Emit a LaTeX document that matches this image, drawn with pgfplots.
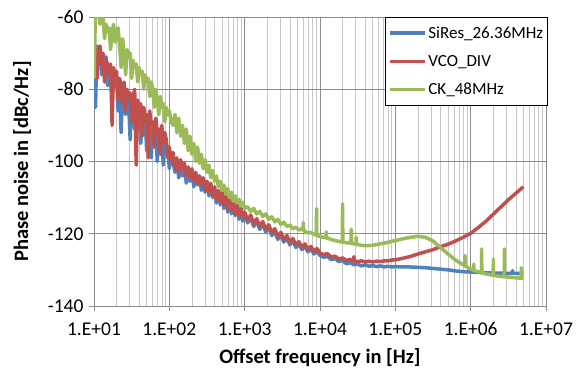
\documentclass[border=0pt]{standalone}
\usepackage{pgfplots}
\pgfplotsset{compat=1.18}
\usepackage{fontspec}
\setmainfont{Carlito}
\definecolor{xblue}{HTML}{4F81BD}
\definecolor{xred}{HTML}{C0504D}
\definecolor{xgreen}{HTML}{9BBB59}
\begin{document}
\begin{tikzpicture}
\path[use as bounding box] (-94pt,-68pt) rectangle (488pt,306pt);
\begin{axis}[
  at={(0pt,0pt)}, anchor=south west,
  scale only axis, width=452pt, height=289pt,
  xmode=log, xmin=10, xmax=1e7, ymin=-140, ymax=-60,
  xtick={1e1,1e2,1e3,1e4,1e5,1e6,1e7},
  xticklabels={1.E+01,1.E+02,1.E+03,1.E+04,1.E+05,1.E+06,1.E+07},
  ytick={-140,-120,-100,-80,-60},
  yticklabels={-140,-120,-100,-80,-60},
  grid=both,
  major grid style={draw=black!45, line width=0.9pt},
  minor grid style={draw=black!22, line width=0.9pt},
  axis line style={draw=black!45, line width=0.9pt},
  axis lines*=left,
  tick style={draw=black!45, line width=0.9pt},
  tick align=outside, tick pos=left,
  major tick length=5pt, minor tick length=0pt,
  xticklabel style={font=\fontsize{19.5}{20}\selectfont, yshift=-8pt},
  yticklabel style={font=\fontsize{19.5}{20}\selectfont, xshift=-2pt},
  xlabel={\textbf{Offset frequency in [Hz]}},
  ylabel={\textbf{Phase noise in [dBc/Hz]}},
  every axis x label/.style={at={(axis description cs:0.5,0)}, anchor=center, yshift=-52pt, font=\fontsize{20.5}{22}\selectfont},
  every axis y label/.style={at={(axis description cs:-0.159,0.5)}, rotate=90, anchor=center, font=\fontsize{20.5}{22}\selectfont},
  legend style={at={(rel axis cs:0.6438,1)}, anchor=north west, draw=black, line width=0.8pt,
     fill=white, font=\fontsize{17}{18}\selectfont, inner xsep=3pt, inner ysep=5pt, row sep=7.5pt,
     nodes={inner xsep=1.5pt, inner ysep=4pt}, cells={anchor=west}},
  legend image code/.code={\draw[#1, line width=3.5pt] (0pt,0pt) -- (35pt,0pt);},
  every axis plot/.append style={line width=3.5pt, line join=round},
]
\addplot[xblue] coordinates {
(10,-70)(10.47,-85)(10.96,-68)(11.48,-71)(12.02,-69)(12.59,-76)(13.18,-72)(13.80,-74)(14.45,-71)(15.14,-79)
(15.85,-74)(16.60,-76)(17.38,-82)(18.20,-75)(19.05,-78)(19.95,-77)(20.89,-86)(21.88,-79)(22.91,-92)(23.99,-81)
(25.12,-80)(26.30,-87)(27.54,-82)(28.84,-84)(30.20,-94)(31.62,-83)(33.11,-86)(34.67,-91)(36.31,-85)(38.02,-88)
(39.81,-86)(41.69,-95)(43.65,-88)(45.71,-90)(47.86,-89)(50.12,-97)(52.48,-90)(54.95,-92)(57.54,-99)(60.26,-91)
(63.10,-93)(66.07,-92)(69.18,-100)(72.44,-93)(75.86,-96)(79.43,-94)(83.18,-101)(87.10,-95)(91.20,-97)(95.50,-96)
(100,-102)(105.9,-98.5)(112.2,-100)(118.9,-103)(125.9,-100)(133.4,-104.5)(141.3,-100.5)(149.6,-104)(158.5,-101)(167.9,-106)
(177.8,-102)(188.4,-105.5)(199.5,-102.5)(211.3,-107)(223.9,-103.5)(237.1,-106.5)(251.2,-104)(266.1,-108)(281.8,-105)(298.5,-108.5)
(316.2,-105.5)(335.0,-109.5)(354.8,-106.5)(375.8,-110)(398.1,-107.5)(421.7,-111.5)(446.7,-108)(473.2,-112)(501.2,-109)(530.9,-113)
(562.3,-110)(595.7,-114)(631.0,-111)(668.3,-114.5)(707.9,-111.5)(749.9,-115)(794.3,-112.5)(841.4,-116)(891.3,-113)(944.1,-116.5)
(1000,-114.5)(1096,-117)(1202,-115.5)(1318,-118)(1445,-116.5)(1585,-118.8)(1738,-117.3)(1905,-119.5)(2089,-118.2)(2291,-120.5)
(2512,-119.3)(2754,-121.6)(3020,-120.3)(3311,-122.3)(3631,-121.2)(3981,-123.1)(4365,-122)(4786,-123.8)(5248,-122.9)(5754,-124.4)
(6310,-123.5)(6918,-125)(7586,-124.2)(8318,-125.6)(9120,-124.8)(10000,-126)
(11220,-126.5)(12590,-126.3)(14130,-127.2)(15850,-126.9)(17780,-127.7)(19950,-127.4)(22390,-128.3)(25120,-128.0)(28180,-128.6)(31620,-128.4)
(35480,-128.9)(39810,-128.6)(44670,-129.0)(50120,-128.8)(56230,-129.1)(63100,-128.9)(70790,-129.2)(79430,-129.0)(89130,-129.2)(100000,-129.1)
(1.259e5,-129.2)(1.585e5,-129.2)(1.995e5,-129.3)(2.512e5,-129.4)(3.162e5,-129.6)(3.981e5,-129.8)(5.012e5,-130.0)(6.31e5,-130.3)(7.943e5,-130.5)
(1e6,-130.6)(1.259e6,-130.7)(1.585e6,-130.8)(1.995e6,-130.9)(2.512e6,-130.9)(3.162e6,-131)(3.55e6,-131)(3.6e6,-130.2)(3.65e6,-131)(3.981e6,-131)(5e6,-131)
};
\addlegendentry{SiRes\_26.36MHz}
\addplot[xred] coordinates {
(10,-74)(10.47,-69)(10.96,-77)(11.48,-70)(12.02,-68)(12.59,-73)(13.18,-70)(13.80,-78)(14.45,-72)(15.14,-73)
(15.85,-76)(16.60,-73)(17.38,-90)(18.20,-74)(19.05,-77)(19.95,-75)(20.89,-83)(21.88,-77)(22.91,-79)(23.99,-84)
(25.12,-78)(26.30,-86)(27.54,-80)(28.84,-82)(30.20,-81)(31.62,-89)(33.11,-82)(34.67,-80)(36.31,-101)(38.02,-83)
(39.81,-86)(41.69,-84)(43.65,-93)(45.71,-85)(47.86,-88)(50.12,-87)(52.48,-99)(54.95,-86)(57.54,-90)(60.26,-89)
(63.10,-96)(66.07,-88)(69.18,-92)(72.44,-91)(75.86,-98)(79.43,-90)(83.18,-95)(87.10,-92)(91.20,-94)(95.50,-99)
(100,-96)(105.9,-100)(112.2,-97.5)(118.9,-102)(125.9,-99)(133.4,-103)(141.3,-99.5)(149.6,-102)(158.5,-100.5)(167.9,-104)
(177.8,-101.5)(188.4,-104.5)(199.5,-102)(211.3,-105.5)(223.9,-103)(237.1,-106)(251.2,-104)(266.1,-106.5)(281.8,-104.5)(298.5,-108)
(316.2,-105.5)(335.0,-108.5)(354.8,-106)(375.8,-109.5)(398.1,-107)(421.7,-110.5)(446.7,-108)(473.2,-111)(501.2,-108.5)(530.9,-112)
(562.3,-109.5)(595.7,-113)(631.0,-110.5)(668.3,-113.5)(707.9,-111)(749.9,-114.5)(794.3,-112)(841.4,-115)(891.3,-113)(944.1,-115.5)
(1000,-114)(1096,-116.2)(1202,-114.8)(1318,-117.3)(1445,-115.8)(1585,-118)(1738,-116.6)(1905,-118.8)(2089,-117.5)(2291,-119.8)
(2512,-118.6)(2754,-120.9)(3020,-119.6)(3311,-121.6)(3631,-120.5)(3981,-122.4)(4365,-121.3)(4786,-123.1)(5248,-122.2)(5754,-123.7)
(6310,-122.8)(6918,-124.3)(7586,-123.5)(8318,-124.9)(9120,-124.1)(10000,-125.3)
(11220,-125.8)(12590,-125.5)(14130,-126.5)(15850,-126.2)(17780,-127)(19950,-126.7)(22390,-127.4)(25120,-127.1)(28000,-127.5)(28180,-126.3)(28400,-127.6)
(31620,-127.7)(35480,-127.5)(39810,-127.8)(44670,-127.6)(50120,-127.8)(56230,-127.6)(63100,-127.7)(70790,-127.5)(79430,-127.5)(89130,-127.3)(100000,-127.2)
(1.259e5,-126.8)(1.585e5,-126.3)(1.995e5,-125.6)(2.512e5,-125)(3.162e5,-124.4)(3.981e5,-123.6)(5.012e5,-122.9)(6.31e5,-122)(7.943e5,-121)
(1e6,-119.9)(1.259e6,-118.3)(1.585e6,-116.6)(1.995e6,-114.6)(2.512e6,-112.6)(3.162e6,-110.6)(3.981e6,-108.8)(5e6,-107)
};
\addlegendentry{VCO\_DIV}
\addplot[xgreen] coordinates {
(10,-77)(10.47,-58)(10.96,-56)(11.48,-57)(12.02,-62)(12.59,-58)(13.18,-60)(13.80,-66)(14.45,-62)(15.14,-64)
(15.85,-63)(16.60,-69)(17.38,-64)(18.20,-62)(19.05,-67)(19.95,-64)(20.89,-63)(21.88,-68)(22.91,-74)(23.99,-66)
(25.12,-70)(26.30,-76)(27.54,-69)(28.84,-71)(30.20,-70)(31.62,-77)(33.11,-72)(34.67,-74)(36.31,-73)(38.02,-78)
(39.81,-74)(41.69,-76)(43.65,-75)(45.71,-80)(47.86,-76)(50.12,-78)(52.48,-77)(54.95,-82)(57.54,-78)(60.26,-80)
(63.10,-85)(66.07,-80)(69.18,-83)(72.44,-87)(75.86,-82)(79.43,-85)(83.18,-84)(87.10,-89)(91.20,-85)(95.50,-87)
(100,-86)(105.9,-89)(112.2,-90)(118.9,-87)(125.9,-92)(133.4,-88)(141.3,-93)(149.6,-90)(158.5,-95)(167.9,-91)
(177.8,-97)(188.4,-93)(199.5,-98)(211.3,-95)(223.9,-100)(237.1,-96)(251.2,-100.5)(266.1,-98)(281.8,-102)(298.5,-99.5)
(316.2,-103)(335.0,-101)(354.8,-104.5)(375.8,-102.5)(398.1,-105.5)(421.7,-104)(446.7,-107)(473.2,-105.5)(501.2,-108)(530.9,-106.5)
(562.3,-109)(595.7,-107.5)(631.0,-110)(668.3,-108.5)(707.9,-111)(749.9,-109.5)(794.3,-111.5)(841.4,-110.5)(891.3,-112.3)(944.1,-111.3)
(1000,-113)(1096,-112.5)(1202,-113.8)(1318,-113)(1445,-114.5)(1585,-113.8)(1738,-115.2)(1905,-114.5)(2089,-116)(2291,-115.3)
(2512,-116.7)(2754,-116)(3020,-117.4)(3311,-116.8)(3631,-118)(3981,-117.6)(4365,-118.6)(4786,-118.2)(5248,-119)(5754,-118.6)
(5950,-119)(6000,-116.9)(6050,-119)(6310,-119.3)(6918,-119.8)(7586,-119.6)(8318,-120.2)(8950,-120.3)(9000,-113)(9050,-120.4)(9500,-120.6)(10000,-120.8)
(11220,-121)(12000,-121.1)(12100,-119.5)(12200,-121.2)(12590,-121.2)(14130,-121.6)(15850,-121.9)(17780,-122.1)
(19800,-122.3)(19950,-111.7)(20100,-122.3)(22390,-122.5)(25700,-122.6)(26000,-118.7)(26300,-122.7)(28180,-122.8)
(30000,-122.8)(30200,-121)(30400,-123)(31620,-123)(35480,-123.2)(39810,-123.3)(44670,-123.3)(50120,-123.2)(56230,-123)
(63100,-122.8)(70790,-122.6)(79430,-122.4)(89130,-122.1)(100000,-121.9)
(1.259e5,-121.4)(1.585e5,-121)(1.995e5,-120.7)(2.512e5,-121)(3.162e5,-122)(3.981e5,-123.8)(5.012e5,-125.6)(6.31e5,-127.3)(7.943e5,-128.6)
(8.35e5,-128.8)(8.4e5,-126)(8.45e5,-128.9)(1e6,-129.8)(1.095e6,-130.1)(1.1e6,-128.4)(1.105e6,-130.2)(1.259e6,-130.5)
(1.395e6,-130.8)(1.4e6,-124.2)(1.405e6,-130.8)(1.585e6,-131.1)(1.99e6,-131.5)(2.0e6,-127)(2.01e6,-131.5)(2.512e6,-131.8)
(2.79e6,-131.9)(2.8e6,-124.2)(2.81e6,-131.9)(3.162e6,-132)(3.981e6,-132.2)(4.68e6,-132.3)(4.7e6,-129.4)(4.72e6,-132.3)(5e6,-132.3)
};
\addlegendentry{CK\_48MHz}
\end{axis}
\end{tikzpicture}
\end{document}
